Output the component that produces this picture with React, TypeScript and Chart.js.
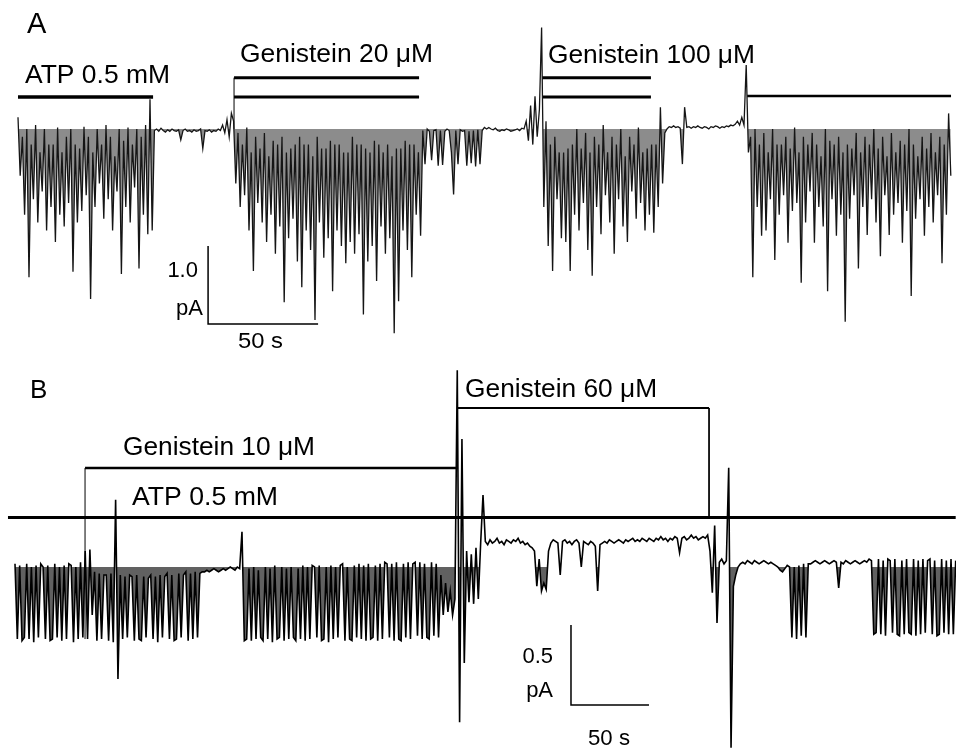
import React, { useEffect, useRef } from 'react';
import { Chart, registerables } from 'chart.js';

Chart.register(...registerables);

// ---------------- Panel A : current (pA) sampled every A_STEP_S seconds ----------------
const A_STEP_S = 1;
const A_TRACE_PA = [
  0.15, -0.6, -0.1, -1.1, 0.0, -1.9, -0.2, -0.9, 0.05, -1.2,
  -0.3, -0.8, 0.0, -1.3, -0.2, -1.0, -0.2, -1.45, 0.02, -1.1,
  -0.3, -1.25, -0.1, -0.95, 0.0, -1.83, -0.2, -1.2, -0.25, -1.05,
  0.03, -0.85, -0.1, -2.18, -0.3, -1.0, 0.0, -0.7, -0.2, -1.15,
  0.05, -0.9, -0.1, -1.3, -0.35, -0.8, 0.0, -1.86, -0.15, -1.0,
  0.02, -1.2, -0.2, -0.75, 0.0, -1.79, -0.1, -1.1, 0.05, -1.35,
  0.38, -1.3, -0.02, 0.0, -0.03, 0.01, -0.02, -0.04, -0.01, -0.03,
  0.0, -0.02, -0.03, -0.01, -0.14, -0.02, 0.0, -0.03, -0.02, -0.04,
  -0.01, -0.03, -0.02, 0.0, -0.25, -0.02, -0.03, -0.01, -0.04, -0.02,
  -0.03, 0.0, -0.02, 0.05, -0.05, 0.12, -0.1, 0.2, 0.1, -0.7,
  -0.05, -1.0, -0.2, -0.85, 0.02, -1.3, -0.3, -1.82, -0.1, -0.95,
  -0.25, -1.2, -0.05, -1.45, -0.35, -1.1, -0.15, -1.6, -0.2, -1.25,
  -0.1, -2.22, -0.3, -1.4, -0.25, -1.15, -0.2, -1.7, -0.1, -2.03,
  -0.2, -1.3, -0.2, -1.55, -0.35, -2.45, -0.1, -1.2, -0.25, -1.65,
  -0.25, -1.4, -0.15, -2.08, -0.2, -1.3, -0.2, -1.5, -0.3, -1.72,
  -0.3, -1.45, -0.1, -1.6, -0.2, -1.35, -0.2, -2.38, -0.25, -1.7,
  -0.3, -1.5, -0.15, -1.95, -0.2, -1.25, -0.3, -1.6, -0.2, -1.4,
  -0.35, -2.62, -0.25, -2.21, -0.25, -1.3, -0.15, -1.55, -0.2, -1.9,
  -0.2, -1.1, -0.3, -1.37, -0.02, -0.45, 0.0, -0.03, -0.4, -0.02,
  -0.01, -0.47, -0.02, -0.46, -0.03, 0.0, -0.02, -0.3, -0.84, -0.02,
  -0.45, -0.01, -0.03, -0.02, -0.47, -0.03, -0.44, -0.02, -0.48, -0.01,
  -0.45, -0.02, 0.02, 0.0, 0.02, 0.0, -0.01, 0.01, -0.02, -0.03,
  -0.01, -0.02, 0.0, -0.01, -0.03, -0.02, -0.01, 0.0, -0.02, 0.01,
  0.0, 0.1, -0.15, 0.3, -0.2, 0.42, -0.1, 0.25, 1.3, -1.0,
  0.1, -1.5, -0.2, -1.82, -0.1, -0.9, -0.3, -1.4, -0.3, -1.45,
  -0.25, -1.82, -0.2, -1.1, 0.0, -1.3, -0.25, -0.95, -0.05, -1.55,
  -0.3, -1.88, -0.1, -1.0, -0.2, -1.35, 0.05, -0.85, -0.3, -1.2,
  -0.1, -1.6, -0.2, -0.9, 0.0, -1.25, -0.35, -1.45, -0.1, -0.8,
  -0.2, -1.15, 0.02, -0.95, -0.3, -1.3, -0.25, -1.1, -0.2, -1.33,
  -0.2, -1.0, 0.28, -0.7, -0.05, 0.0, 0.03, 0.02, 0.04, 0.02,
  0.03, 0.01, -0.45, 0.28, 0.02, 0.03, 0.01, 0.03, 0.02, 0.04,
  0.02, 0.01, 0.03, 0.02, 0.0, 0.03, 0.02, 0.04, 0.03, 0.01,
  0.03, 0.02, 0.04, 0.03, 0.05, 0.04, 0.06, 0.1, 0.05, 0.15,
  0.05, 0.82, -0.3, -0.1, -1.9, 0.0, -1.0, -0.2, -1.37, -0.05,
  -1.3, -0.3, -0.9, 0.0, -1.68, -0.2, -1.1, -0.2, -0.85, -0.1,
  -1.46, -0.25, -1.05, 0.02, -0.95, -0.3, -1.97, -0.1, -1.2, -0.2,
  -0.8, -0.05, -1.46, -0.2, -1.0, -0.35, -1.25, 0.0, -2.08, -0.15,
  -0.9, -0.2, -1.37, -0.1, -1.1, -0.3, -2.47, -0.2, -1.15, -0.25,
  -0.85, -0.05, -1.79, -0.3, -1.0, -0.1, -1.36, -0.2, -0.9, 0.0,
  -1.2, -0.25, -1.63, -0.1, -0.85, -0.35, -1.36, -0.05, -1.1, -0.3,
  -0.95, -0.15, -1.46, -0.2, -1.05, 0.0, -2.14, -0.2, -1.15, -0.35,
  -0.9, -0.1, -1.37, -0.25, -1.0, -0.05, -1.2, -0.3, -0.85, -0.1,
  -1.72, -0.2, -1.1, 0.2, -0.6,
];
// application bars, [time s, level pA]
const A_ATP_BAR = [[0, 0.41], [61.4, 0.41]];
const A_GEN20_TICK = [[98.2, 0.0], [98.2, 0.658]];
const A_GEN20_BAR = [[98.2, 0.658], [182.3, 0.658]];
const A_GEN20_ATP_BAR = [[98.2, 0.41], [182.3, 0.41]];
const A_GEN100_BAR = [[238.2, 0.658], [287.7, 0.658]];
const A_GEN100_ATP_BAR = [[238.2, 0.41], [287.7, 0.41]];
const A_ATP2_BAR = [[331.4, 0.423], [424.1, 0.423]];
const A_SCALE_BAR = [[86.4, -1.5], [86.4, -2.5], [136.4, -2.5]];

// ---------------- Panel B : current (pA) sampled every B_STEP_S seconds ----------------
const B_STEP_S = 1.5;
const B_TRACE_PA = [
  0.02, -0.45, 0.01, -0.46, -0.44, 0.02, -0.45, 0.0, -0.47, 0.01,
  -0.44, 0.02, 0.0, -0.45, 0.01, -0.46, -0.45, 0.02, -0.44, 0.0,
  -0.46, 0.01, -0.45, 0.02, 0.01, -0.47, 0.0, -0.45, 0.03, -0.44,
  0.1, -0.45, 0.11, -0.3, -0.03, -0.46, -0.04, -0.45, -0.05, -0.05,
  -0.46, -0.04, -0.47, 0.42, -0.7, -0.05, -0.45, -0.06, -0.44, -0.05,
  -0.06, -0.46, -0.05, -0.45, -0.46, -0.06, -0.44, -0.07, -0.05, -0.45,
  -0.06, -0.47, -0.05, -0.44, -0.06, -0.04, -0.45, -0.05, -0.46, -0.45,
  -0.04, -0.44, -0.05, -0.03, -0.46, -0.04, -0.45, -0.03, -0.44, -0.04,
  -0.03, -0.03, -0.02, -0.03, -0.02, -0.01, -0.02, -0.03, -0.02, -0.01,
  -0.02, -0.01, 0.0, -0.01, -0.02, 0.0, -0.01, 0.22, -0.46, -0.45,
  -0.01, -0.46, 0.0, -0.45, -0.02, -0.44, -0.46, 0.0, -0.45, -0.01,
  -0.47, 0.01, -0.45, -0.44, 0.0, -0.46, -0.01, -0.45, 0.0, -0.44,
  -0.46, -0.01, -0.45, 0.01, -0.46, 0.0, -0.45, 0.01, 0.0, -0.44,
  0.01, -0.46, -0.45, 0.0, -0.47, 0.01, -0.45, 0.0, -0.44, 0.01,
  0.02, -0.46, 0.0, -0.45, -0.46, 0.01, -0.44, 0.02, -0.45, 0.01,
  -0.46, 0.02, -0.45, -0.44, 0.01, -0.46, 0.02, -0.45, 0.03, 0.02,
  -0.44, 0.02, -0.46, 0.03, -0.45, -0.46, 0.02, -0.44, 0.03, -0.45,
  0.02, 0.03, -0.43, 0.03, -0.45, 0.02, -0.44, -0.45, 0.03, -0.43,
  0.02, -0.44, -0.05, -0.3, -0.1, -0.28, -0.15, -0.3, -0.2, 1.23,
  -0.97, 0.8, -0.6, 0.1, -0.22, 0.08, -0.23, 0.12, -0.2, 0.15,
  0.45, 0.16, 0.14, 0.17, 0.15, 0.16, 0.18, 0.15, 0.16, 0.14,
  0.17, 0.16, 0.15, 0.17, 0.16, 0.18, 0.15, 0.16, 0.14, 0.15,
  0.13, 0.12, 0.1, -0.12, 0.05, -0.15, -0.1, -0.14, 0.1, 0.15,
  0.17, 0.16, 0.15, -0.05, 0.16, 0.17, 0.15, 0.16, 0.14, 0.16,
  0.17, 0.15, 0.0, 0.16, 0.15, 0.14, 0.16, 0.15, 0.13, -0.15,
  0.14, 0.15, 0.16, 0.15, 0.17, 0.16, 0.15, 0.16, 0.17, 0.16,
  0.15, 0.17, 0.16, 0.17, 0.18, 0.16, 0.17, 0.16, 0.18, 0.17,
  0.16, 0.18, 0.17, 0.16, 0.18, 0.17, 0.19, 0.17, 0.18, 0.16,
  0.18, 0.17, 0.19, 0.18, 0.09, 0.18, 0.19, 0.17, 0.18, 0.2,
  0.18, 0.19, 0.17, 0.18, 0.19, 0.18, 0.2, 0.1, -0.16, 0.26,
  -0.35, 0.03, 0.05, 0.02, 0.04, 0.62, -1.13, -0.12, -0.05, 0.0,
  0.02, 0.03, 0.02, 0.04, 0.03, 0.02, 0.04, 0.03, 0.02, 0.03,
  0.04, 0.03, 0.02, 0.03, 0.02, 0.01, 0.0, -0.02, -0.03, -0.01,
  0.01, 0.0, -0.44, 0.0, -0.45, 0.01, -0.43, 0.02, -0.44, 0.02,
  0.02, 0.03, 0.04, 0.03, 0.02, 0.03, 0.04, 0.03, 0.02, 0.03,
  0.04, 0.03, -0.13, 0.03, 0.02, 0.04, 0.03, 0.02, 0.03, 0.04,
  0.03, 0.02, 0.03, 0.04, 0.03, 0.05, 0.04, -0.42, -0.41, 0.05,
  -0.42, 0.04, -0.43, 0.05, 0.04, -0.41, 0.05, -0.42, -0.43, 0.04,
  -0.42, 0.05, -0.41, -0.42, 0.05, -0.43, 0.04, -0.42, 0.05, -0.41,
  0.04, 0.05, -0.42, 0.04, -0.43, -0.42, 0.05, -0.41, 0.04, -0.42,
  0.05, -0.42, 0.04,
];
const B_ATP_BAR = [[-4.5, 0.31], [603, 0.31]];
const B_GEN10_TICK = [[44.9, -0.45], [44.9, 0.619]];
const B_GEN10_BAR = [[44.9, 0.619], [284, 0.619]];
const B_GEN60_BAR = [[283.3, 0.994], [444.9, 0.994]];
const B_GEN60_TICK = [[444.9, 0.994], [444.9, 0.31]];
const B_SCALE_BAR = [[356.4, -0.3625], [356.4, -0.8625], [406.4, -0.8625]];

// ---------------- layout ----------------
const FONT = '"Liberation Sans", Arial, Helvetica, sans-serif';

type Label = { text: string; t: number; v: number; size: number; align?: CanvasTextAlign; width?: number };

const A_LABELS: Label[] = [
  { text: 'A', t: 4.1, v: 1.231, size: 29 },
  { text: 'ATP 0.5 mM', t: 3.2, v: 0.59, size: 25, width: 145 },
  { text: 'Genistein 20 \u03bcM', t: 100.9, v: 0.859, size: 25, width: 193 },
  { text: 'Genistein 100 \u03bcM', t: 240.9, v: 0.846, size: 25, width: 207 },
  { text: '1.0', t: 81.8, v: -1.897, size: 22, align: 'right' },
  { text: 'pA', t: 84.1, v: -2.385, size: 22, align: 'right' },
  { text: '50 s', t: 100, v: -2.808, size: 22, width: 45 },
];
const B_LABELS: Label[] = [
  { text: 'B', t: 9.6, v: 1.056, size: 26 },
  { text: 'Genistein 60 \u03bcM', t: 288.5, v: 1.0625, size: 25, width: 192 },
  { text: 'Genistein 10 \u03bcM', t: 69.2, v: 0.70, size: 25, width: 192 },
  { text: 'ATP 0.5 mM', t: 75, v: 0.3875, size: 25, width: 146 },
  { text: '0.5', t: 344.9, v: -0.6, size: 22, align: 'right' },
  { text: 'pA', t: 344.9, v: -0.8125, size: 22, align: 'right' },
  { text: '50 s', t: 367.3, v: -1.1125, size: 22, width: 42 },
];

const toPts = (pairs: number[][]) => pairs.map(([x, y]) => ({ x, y }));
const tracePts = (vals: number[], step: number) => vals.map((y, i) => ({ x: i * step, y }));

function lineDs(data: { x: number; y: number }[], width: number, color = '#000', shade?: string) {
  return {
    data,
    showLine: true,
    borderColor: color,
    borderWidth: width,
    borderJoinStyle: 'miter' as const,
    pointRadius: 0,
    pointHoverRadius: 0,
    tension: 0,
    fill: shade ? { target: { value: 0 }, above: 'rgba(0,0,0,0)', below: shade } : false,
    clip: false as any,
  };
}

function labelPlugin(items: Label[]) {
  return {
    id: 'traceLabels',
    afterDraw(chart: any) {
      const { ctx, scales } = chart;
      const xs = scales.x;
      const ys = scales.y;
      for (const l of items) {
        ctx.save();
        ctx.font = `${l.size}px ${FONT}`;
        ctx.fillStyle = '#000';
        ctx.textBaseline = 'alphabetic';
        ctx.textAlign = l.align || 'left';
        const px = xs.getPixelForValue(l.t);
        const py = ys.getPixelForValue(l.v);
        const w = ctx.measureText(l.text).width;
        const sx = l.width ? l.width / w : 1;
        ctx.translate(px, py);
        ctx.scale(sx, 1);
        ctx.fillText(l.text, 0, 0);
        ctx.restore();
      }
    },
  };
}

function makeConfig(datasets: any[], xr: [number, number], yr: [number, number], labels: Label[]) {
  return {
    type: 'scatter' as const,
    data: { datasets },
    options: {
      animation: false as const,
      responsive: false,
      maintainAspectRatio: false,
      events: [] as any[],
      layout: { padding: 0 },
      plugins: { legend: { display: false }, tooltip: { enabled: false } },
      scales: {
        x: { type: 'linear' as const, min: xr[0], max: xr[1], display: false },
        y: { type: 'linear' as const, min: yr[0], max: yr[1], display: false },
      },
    },
    plugins: [labelPlugin(labels)],
  };
}

export default function App() {
  const aRef = useRef<HTMLCanvasElement>(null);
  const bRef = useRef<HTMLCanvasElement>(null);

  useEffect(() => {
    document.body.style.margin = '0';
    const aSets = [
      lineDs(tracePts(A_TRACE_PA, A_STEP_S), 1.3, '#151515', 'rgba(0,0,0,0.45)'),
      lineDs(toPts(A_ATP_BAR), 3.5),
      lineDs(toPts(A_GEN20_TICK), 1),
      lineDs(toPts(A_GEN20_BAR), 3),
      lineDs(toPts(A_GEN20_ATP_BAR), 3),
      lineDs(toPts(A_GEN100_BAR), 3),
      lineDs(toPts(A_GEN100_ATP_BAR), 3),
      lineDs(toPts(A_ATP2_BAR), 2.5),
      lineDs(toPts(A_SCALE_BAR), 1.5),
    ];
    const bSets = [
      lineDs(tracePts(B_TRACE_PA, B_STEP_S), 1.6, '#000', 'rgba(0,0,0,0.62)'),
      lineDs(toPts(B_ATP_BAR), 3),
      lineDs(toPts(B_GEN10_TICK), 1),
      lineDs(toPts(B_GEN10_BAR), 2.5),
      lineDs(toPts(B_GEN60_BAR), 2),
      lineDs(toPts(B_GEN60_TICK), 1),
      lineDs(toPts(B_SCALE_BAR), 1.5),
    ];
    const a = new Chart(aRef.current as HTMLCanvasElement, makeConfig(aSets, [-8.18, 426.36], [-2.962, 1.654], A_LABELS) as any);
    const b = new Chart(bRef.current as HTMLCanvasElement, makeConfig(bSets, [-9.615, 603.2], [-1.131, 1.294], B_LABELS) as any);
    return () => {
      a.destroy();
      b.destroy();
    };
  }, []);

  return (
    <div style={{ width: 956, background: '#fff' }}>
      <canvas ref={aRef} width={956} height={360} style={{ display: 'block' }} />
      <canvas ref={bRef} width={956} height={388} style={{ display: 'block' }} />
    </div>
  );
}
